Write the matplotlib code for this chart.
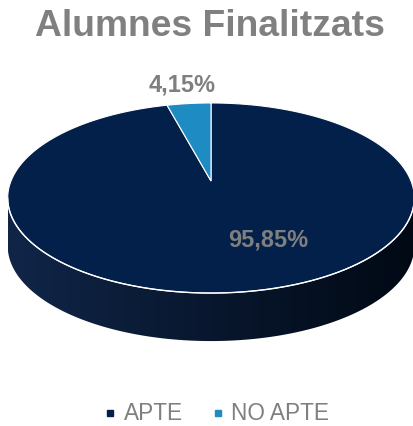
import numpy as np
import matplotlib
matplotlib.use("Agg")
from matplotlib import pyplot as plt
from matplotlib.patches import Polygon
from matplotlib.lines import Line2D

plt.rcParams['font.family'] = ['Liberation Sans', 'DejaVu Sans']

title = "Alumnes Finalitzats"
categories = ["APTE", "NO APTE"]
values = [95.85, 4.15]
labels = ["95,85%", "4,15%"]
colors = ["#02204a", "#1e8bc3"]

W, H = 413, 426
fig = plt.figure(figsize=(W / 100, H / 100), dpi=100)
ax = fig.add_axes([0, 0, 1, 1])
ax.set_xlim(0, W)
ax.set_ylim(H, 0)
ax.axis('off')

# pie geometry in pixels (y down), simple perspective of a tilted disc
ox, oy = 211, 181      # projected centre of the disc
A, B = 200, 92
k = -0.179             # perspective strength (far edge shrinks)
depth = 48


def project(phi):
    # phi measured clockwise from 12 o'clock
    u, v = np.sin(phi), -np.cos(phi)
    d = 1 + k * v
    return np.column_stack([ox + A * u / d, oy + B * v / d])


# side wall: front part of the outline between the left and right extremes
phi = np.linspace(0, 2 * np.pi, 721)
rim = project(phi)
i_r, i_l = np.argmax(rim[:, 0]), np.argmin(rim[:, 0])
front = rim[i_r:i_l + 1]
side = np.vstack([front, front[::-1] + [0, depth]])
side_patch = Polygon(side, closed=True, facecolor='none', edgecolor='none')
ax.add_patch(side_patch)
grad = np.linspace(0, 1, 256)[None, :]
c0 = np.array([16, 37, 72]) / 255
c1 = np.array([1, 9, 20]) / 255
img = c0[None, None, :] * (1 - grad[..., None]) + c1[None, None, :] * grad[..., None]
x0, x1 = rim[:, 0].min(), rim[:, 0].max()
im = ax.imshow(img, extent=[x0, x1, side[:, 1].max() + 2, side[:, 1].min() - 2],
               aspect='auto', zorder=1)
im.set_clip_path(side_patch)

# top face wedges, starting at 12 o'clock going clockwise
start = 0.0
total = sum(values)
for val, col in zip(values, colors):
    span = 2 * np.pi * val / total
    pts = np.vstack([[ox, oy], project(np.linspace(start, start + span, 300)), [ox, oy]])
    ax.add_patch(Polygon(pts, closed=True, facecolor=col, edgecolor='white',
                         linewidth=0.8, zorder=2))
    start += span

# white rim along the front edge
ax.plot(front[:, 0], front[:, 1], color='white', linewidth=1.0, zorder=3)

# data labels
ax.text(268, 240, labels[0], ha='center', va='center', fontsize=17,
        fontweight='bold', color='#7f7f7f', zorder=4)
ax.text(182, 85, labels[1], ha='center', va='center', fontsize=17,
        fontweight='bold', color='#7f7f7f', zorder=4)

ax.text(W / 2 + 3, 26, title, ha='center', va='center', fontsize=26.8,
        fontweight='bold', color='#808080')

handles = [Line2D([], [], linestyle='none', marker='s', markersize=4.6,
                  color=c) for c in colors]
fig.legend(handles, categories, loc='center', ncol=2, frameon=False,
           bbox_to_anchor=(0.525, 1 - 414 / H), fontsize=16.3,
           labelcolor='#7f7f7f', handlelength=0.5, handletextpad=0.35,
           columnspacing=1.3, borderaxespad=0, borderpad=0.1)

fig.savefig("out.png", dpi=100)
